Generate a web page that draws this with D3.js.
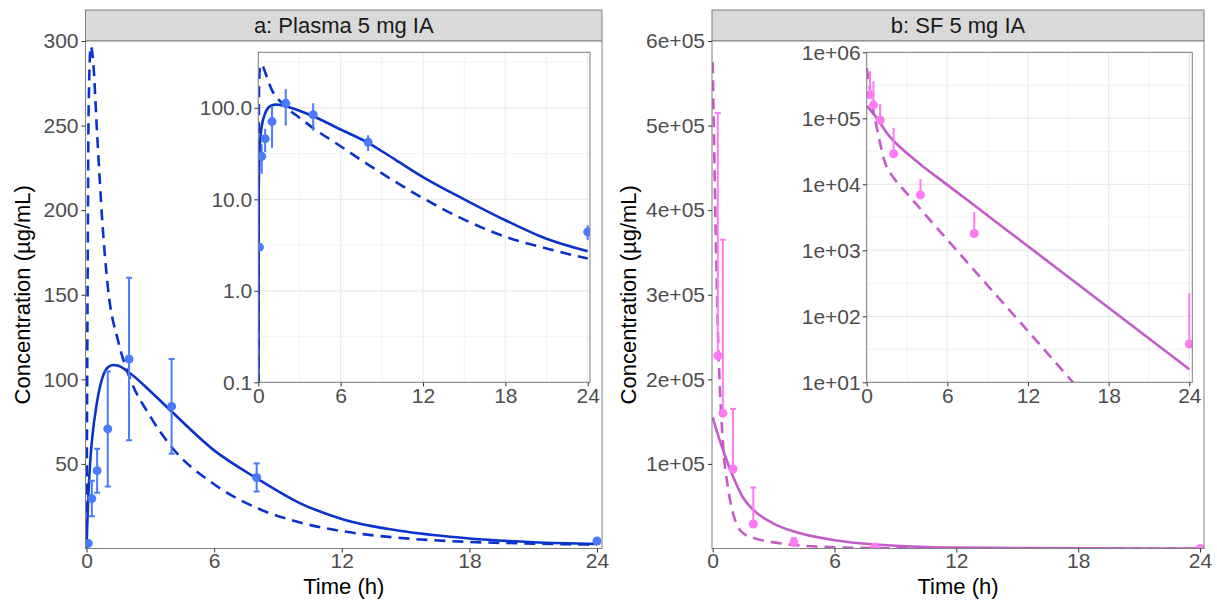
<!DOCTYPE html>
<html>
<head>
<meta charset="utf-8">
<script src="https://cdn.jsdelivr.net/npm/d3@7"></script>
<style>
  body { margin: 0; background: #fff; }
  text { font-family: "Liberation Sans", Arial, sans-serif; }
</style>
</head>
<body>
<div id="chart"></div>
<script>
// observed data: plasma (mean +/- sd)
const plasmaObsTime = [0.083, 0.25, 0.5, 1, 2, 4, 8, 24];
const plasmaObsMean = [3, 29.5, 46, 70.7, 112, 84, 42, 4.4];
const plasmaObsSd = [0, 10.5, 13, 34, 48, 28, 8.3, 0.8];

// model curves, plasma
const plasmaFitTime = [0, 0.03, 0.083, 0.167, 0.25, 0.5, 0.75, 1, 1.25, 1.5, 2, 3, 4, 6, 8, 10, 12, 15, 18, 21, 24];
const plasmaFitSolid = [0, 12, 30, 50, 63, 87, 101, 107, 108.5, 108, 104, 93, 81, 58, 41.5, 27, 17.5, 10, 5.9, 3.7, 2.7];
const plasmaDashTime = [0, 0.05, 0.1, 0.2, 0.3, 0.5, 0.75, 1, 1.5, 2, 3, 4, 6, 8, 10, 12, 15, 18, 21, 24];
const plasmaDashVal = [0, 150, 260, 297, 290, 245, 192, 155, 122, 102, 78, 60, 38, 24, 15.5, 10.3, 6, 3.9, 2.9, 2.25];

// observed data: synovial fluid (mean, upper bar only)
const sfObsTime = [0.25, 0.5, 1, 2, 4, 8, 24];
const sfObsMean = [228000, 160000, 94000, 29000, 6900, 1800, 38];
const sfObsUpper = [515000, 365000, 165000, 72000, 12000, 3800, 225];

// model curves, SF
const sfFitTime = [0, 0.25, 0.5, 1, 1.5, 2, 3, 4, 6, 8, 12, 18, 24];
const sfFitSolid = [155000, 135000, 117000, 85000, 60000, 45700, 29500, 20000, 9800, 4800, 1150, 135, 15.8];
const sfDashTime = [0, 0.25, 0.5, 0.75, 1, 1.25, 1.5, 2, 3, 4, 6, 8.5, 11.5, 15, 18, 24];
const sfDashVal = [575000, 263000, 126000, 72400, 41700, 25100, 18200, 12600, 7240, 4220, 1445, 380, 78, 12, 2.5, 0.1];

// ticks
const xTicks = [0, 6, 12, 18, 24];
const xMinorTicks = [3, 9, 15, 21];
const plasmaYTicks = [50, 100, 150, 200, 250, 300];
const sfYTicks = [100000, 200000, 300000, 400000, 500000, 600000];
const plasmaLogTicks = [0.1, 1, 10, 100];
const sfLogTicks = [1e1, 1e2, 1e3, 1e4, 1e5, 1e6];

const W = 1217, H = 600;
const svg = d3.select('#chart').append('svg').attr('width', W).attr('height', H);

const sci = (v) => {
  const e = Math.floor(Math.log10(v) + 1e-9);
  const m = v / Math.pow(10, e);
  return `${Math.round(m)}e+${String(e).padStart(2, '0')}`;
};

const panels = [
  {
    id: 'a', title: 'a: Plasma 5 mg IA',
    box: { x0: 85.5, x1: 602, y0: 41, y1: 548.5 },
    x: [86.5, 597], yDomain: [0, 300], yTicks: plasmaYTicks, yFmt: d3.format('d'),
    inset: { x0: 258.3, x1: 590, xr: [258.3, 587.7], yDomain: [0.1, Math.pow(10, 2.607)], yTicks: plasmaLogTicks, yFmt: d3.format('.1f') },
    line: '#0b33cc', pt: '#4a7bff',
    obs: plasmaObsTime.map((t, i) => ({ t, m: plasmaObsMean[i], lo: plasmaObsMean[i] - plasmaObsSd[i], hi: plasmaObsMean[i] + plasmaObsSd[i], sd: plasmaObsSd[i] })),
    solid: plasmaFitTime.map((t, i) => ({ t, v: plasmaFitSolid[i] })),
    dash: plasmaDashTime.map((t, i) => ({ t, v: plasmaDashVal[i] })),
    yTitleX: 22
  },
  {
    id: 'b', title: 'b: SF 5 mg IA',
    box: { x0: 712, x1: 1204, y0: 41, y1: 548.5 },
    x: [712.7, 1200], yDomain: [0, 600000], yTicks: sfYTicks, yFmt: sci,
    inset: { x0: 866.7, x1: 1192.3, xr: [866.7, 1189.3], yDomain: [10, 1e6], yTicks: sfLogTicks, yFmt: sci },
    line: '#c35bc9', pt: '#ff7af3',
    obs: sfObsTime.map((t, i) => ({ t, m: sfObsMean[i], lo: sfObsMean[i], hi: sfObsUpper[i], sd: sfObsUpper[i] - sfObsMean[i] })),
    solid: sfFitTime.map((t, i) => ({ t, v: sfFitSolid[i] })),
    dash: sfDashTime.map((t, i) => ({ t, v: sfDashVal[i] })),
    yTitleX: 628
  }
];

const defs = svg.append('defs');

panels.forEach((p) => {
  const b = p.box;
  const xs = d3.scaleLinear().domain([0, 24]).range(p.x);
  const ys = d3.scaleLinear().domain(p.yDomain).range([b.y1, b.y0]);

  // strip
  svg.append('rect').attr('x', b.x0).attr('y', 10).attr('width', b.x1 - b.x0).attr('height', b.y0 - 10)
    .attr('fill', '#d9d9d9').attr('stroke', '#7f7f7f').attr('stroke-width', 1);
  svg.append('text').attr('x', (b.x0 + b.x1) / 2).attr('y', 33).attr('text-anchor', 'middle')
    .attr('font-size', 22).attr('fill', '#1a1a1a').text(p.title);

  // panel
  svg.append('rect').attr('x', b.x0).attr('y', b.y0).attr('width', b.x1 - b.x0).attr('height', b.y1 - b.y0)
    .attr('fill', '#fff');

  defs.append('clipPath').attr('id', 'clip-' + p.id).append('rect')
    .attr('x', b.x0).attr('y', b.y0).attr('width', b.x1 - b.x0).attr('height', b.y1 - b.y0);
  const g = svg.append('g').attr('clip-path', `url(#clip-${p.id})`);

  const line = d3.line().x((d) => xs(d.t)).y((d) => ys(d.v)).curve(d3.curveMonotoneX);
  g.append('path').datum(p.dash).attr('d', line).attr('fill', 'none').attr('stroke', p.line)
    .attr('stroke-width', 2.6).attr('stroke-dasharray', '11,7');
  g.append('path').datum(p.solid).attr('d', line).attr('fill', 'none').attr('stroke', p.line)
    .attr('stroke-width', 2.6);

  // error bars with caps
  const bars = g.selectAll('.bar').data(p.obs.filter((d) => d.sd > 0)).enter().append('g');
  bars.append('line').attr('x1', (d) => xs(d.t)).attr('x2', (d) => xs(d.t))
    .attr('y1', (d) => ys(d.lo)).attr('y2', (d) => ys(d.hi)).attr('stroke', p.pt).attr('stroke-width', 2);
  bars.append('line').attr('x1', (d) => xs(d.t) - 3).attr('x2', (d) => xs(d.t) + 3)
    .attr('y1', (d) => ys(d.hi)).attr('y2', (d) => ys(d.hi)).attr('stroke', p.pt).attr('stroke-width', 2);
  bars.filter((d) => d.lo < d.m).append('line').attr('x1', (d) => xs(d.t) - 3).attr('x2', (d) => xs(d.t) + 3)
    .attr('y1', (d) => ys(d.lo)).attr('y2', (d) => ys(d.lo)).attr('stroke', p.pt).attr('stroke-width', 2);
  g.selectAll('.pt').data(p.obs).enter().append('circle')
    .attr('cx', (d) => xs(d.t)).attr('cy', (d) => ys(d.m)).attr('r', 4.5).attr('fill', p.pt);

  svg.append('rect').attr('x', b.x0).attr('y', b.y0).attr('width', b.x1 - b.x0).attr('height', b.y1 - b.y0)
    .attr('fill', 'none').attr('stroke', '#7f7f7f').attr('stroke-width', 1);

  // main axes
  const ax = svg.append('g').attr('transform', `translate(0,${b.y1})`)
    .call(d3.axisBottom(xs).tickValues(xTicks).tickSize(4).tickPadding(1).tickFormat(d3.format('d')));
  const ay = svg.append('g').attr('transform', `translate(${b.x0},0)`)
    .call(d3.axisLeft(ys).tickValues(p.yTicks).tickSize(4).tickPadding(3).tickFormat(p.yFmt));
  [ax, ay].forEach((a) => {
    a.select('.domain').remove();
    a.selectAll('.tick line').attr('stroke', '#333');
    a.selectAll('.tick text').attr('font-size', 21).attr('fill', '#4d4d4d')
      .style('font-family', '"Liberation Sans", Arial, sans-serif');
  });

  svg.append('text').attr('x', (b.x0 + b.x1) / 2).attr('y', 594).attr('text-anchor', 'middle')
    .attr('font-size', 22).attr('fill', '#000').text('Time (h)');
  svg.append('text').attr('transform', `translate(${p.yTitleX},${(b.y0 + b.y1) / 2}) rotate(-90)`)
    .attr('text-anchor', 'middle').attr('dy', '0.35em')
    .attr('font-size', 22).attr('fill', '#000').text('Concentration (µg/mL)');

  // inset, log scale
  const ins = p.inset;
  const iy0 = 52.3, iy1 = 382.3;
  const ixs = d3.scaleLinear().domain([0, 24]).range(ins.xr);
  const iys = d3.scaleLog().domain(ins.yDomain).range([iy1, iy0]);

  svg.append('rect').attr('x', ins.x0).attr('y', iy0).attr('width', ins.x1 - ins.x0).attr('height', iy1 - iy0)
    .attr('fill', '#fff');

  const ig = svg.append('g');
  const lgMin = Math.log10(ins.yDomain[0]);
  const lgMax = Math.log10(ins.yDomain[1]);
  const minorY = d3.range(Math.floor(lgMin), Math.ceil(lgMax)).map((k) => Math.pow(10, k + 0.5))
    .filter((v) => v > ins.yDomain[0] && v < ins.yDomain[1]);
  ig.selectAll('.gmx').data(xMinorTicks).enter().append('line')
    .attr('x1', (d) => ixs(d)).attr('x2', (d) => ixs(d)).attr('y1', iy0).attr('y2', iy1)
    .attr('stroke', '#f0f0f0').attr('stroke-width', 0.8);
  ig.selectAll('.gmy').data(minorY).enter().append('line')
    .attr('x1', ins.x0).attr('x2', ins.x1).attr('y1', (d) => iys(d)).attr('y2', (d) => iys(d))
    .attr('stroke', '#f0f0f0').attr('stroke-width', 0.8);
  ig.selectAll('.gx').data(xTicks).enter().append('line')
    .attr('x1', (d) => ixs(d)).attr('x2', (d) => ixs(d)).attr('y1', iy0).attr('y2', iy1)
    .attr('stroke', '#ebebeb').attr('stroke-width', 1.2);
  ig.selectAll('.gy').data(ins.yTicks).enter().append('line')
    .attr('x1', ins.x0).attr('x2', ins.x1).attr('y1', (d) => iys(d)).attr('y2', (d) => iys(d))
    .attr('stroke', '#ebebeb').attr('stroke-width', 1.2);

  defs.append('clipPath').attr('id', 'iclip-' + p.id).append('rect')
    .attr('x', ins.x0).attr('y', iy0).attr('width', ins.x1 - ins.x0).attr('height', iy1 - iy0);
  const ic = svg.append('g').attr('clip-path', `url(#iclip-${p.id})`);
  const floor = ins.yDomain[0] / 100;
  const iline = d3.line().x((d) => ixs(d.t)).y((d) => iys(Math.max(d.v, floor))).curve(d3.curveMonotoneX);
  ic.append('path').datum(p.dash).attr('d', iline).attr('fill', 'none').attr('stroke', p.line)
    .attr('stroke-width', 2.6).attr('stroke-dasharray', '11,7');
  ic.append('path').datum(p.solid).attr('d', iline).attr('fill', 'none').attr('stroke', p.line)
    .attr('stroke-width', 2.6);
  ic.selectAll('.ibar').data(p.obs.filter((d) => d.sd > 0)).enter().append('line')
    .attr('x1', (d) => ixs(d.t)).attr('x2', (d) => ixs(d.t))
    .attr('y1', (d) => iys(Math.max(d.lo, floor))).attr('y2', (d) => iys(d.hi))
    .attr('stroke', p.pt).attr('stroke-width', 2);
  ic.selectAll('.ipt').data(p.obs).enter().append('circle')
    .attr('cx', (d) => ixs(d.t)).attr('cy', (d) => iys(d.m)).attr('r', 4.5).attr('fill', p.pt);

  svg.append('rect').attr('x', ins.x0).attr('y', iy0).attr('width', ins.x1 - ins.x0).attr('height', iy1 - iy0)
    .attr('fill', 'none').attr('stroke', '#7f7f7f').attr('stroke-width', 1);

  const iax = svg.append('g').attr('transform', `translate(0,${iy1})`)
    .call(d3.axisBottom(ixs).tickValues(xTicks).tickSize(4).tickPadding(2).tickFormat(d3.format('d')));
  const iay = svg.append('g').attr('transform', `translate(${ins.x0},0)`)
    .call(d3.axisLeft(iys).tickValues(ins.yTicks).tickSize(4).tickPadding(2).tickFormat(ins.yFmt));
  [iax, iay].forEach((a) => {
    a.select('.domain').remove();
    a.selectAll('.tick line').attr('stroke', '#333');
    a.selectAll('.tick text').attr('font-size', 21).attr('fill', '#4d4d4d')
      .style('font-family', '"Liberation Sans", Arial, sans-serif');
  });
});
</script>
</body>
</html>
